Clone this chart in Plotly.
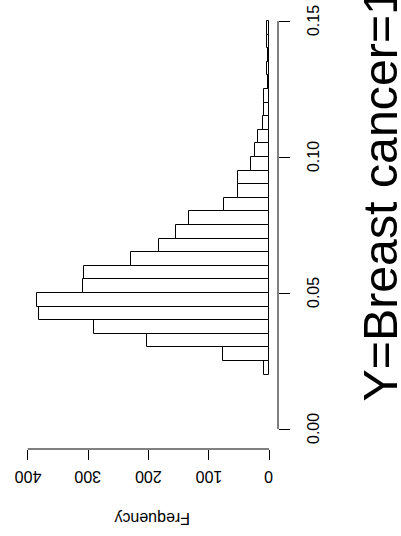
import plotly.graph_objects as go

# Histogram of predicted probabilities (bin width 0.005), drawn sideways
bin_width = 0.005
bin_starts = [0.020, 0.025, 0.030, 0.035, 0.040, 0.045, 0.050, 0.055, 0.060,
              0.065, 0.070, 0.075, 0.080, 0.085, 0.090, 0.095, 0.100, 0.105,
              0.110, 0.115, 0.120, 0.125, 0.130, 0.135, 0.140, 0.145]
counts = [9, 77, 203, 290, 381, 385, 308, 306, 229,
          183, 155, 133, 74, 52, 52, 30, 24, 19,
          10, 9, 9, 2, 3, 1, 3, 3]

value_ticks = [0.00, 0.05, 0.10, 0.15]
value_tick_text = ["0.00", "0.05", "0.10", "0.15"]
freq_ticks = [0, 100, 200, 300, 400]
freq_tick_text = ["0", "100", "200", "300", "400"]

title_text = "Y=Breast cancer=1"
freq_label = "Frequency"

W, H = 401, 536
L, R, T, B = 26, 123, 5, 87
FONT = "Liberation Sans, Arial, Helvetica, sans-serif"


def px_x(p):
    return (p - L) / (W - L - R)


def px_y(q):
    return (H - B - q) / (H - T - B)


centers = [s + bin_width / 2 for s in bin_starts]

fig = go.Figure(
    go.Bar(
        x=counts,
        y=centers,
        width=bin_width,
        orientation="h",
        marker=dict(color="white", line=dict(color="black", width=1)),
        hoverinfo="skip",
    )
)

fig.update_layout(
    width=W,
    height=H,
    margin=dict(l=L, r=R, t=T, b=B, pad=0),
    paper_bgcolor="white",
    plot_bgcolor="white",
    showlegend=False,
    font=dict(family=FONT, size=16, color="black"),
    bargap=0,
)

fig.update_xaxes(
    range=[402.8, -14.9],
    tickvals=freq_ticks,
    showticklabels=False,
    ticks="outside",
    ticklen=10,
    tickwidth=1,
    tickcolor="black",
    showgrid=False,
    zeroline=False,
    showline=False,
)

fig.update_yaxes(
    range=[-0.00735, 0.1559],
    side="right",
    tickvals=value_ticks,
    showticklabels=False,
    ticks="outside",
    ticklen=11,
    tickwidth=1,
    tickcolor="black",
    showgrid=False,
    zeroline=False,
    showline=False,
)

# Axis lines spanning only the first to last tick
fig.add_shape(type="line", xref="x", yref="paper",
              x0=min(freq_ticks), x1=max(freq_ticks), y0=0, y1=0,
              line=dict(color="black", width=1))
fig.add_shape(type="line", xref="paper", yref="y",
              x0=1, x1=1, y0=min(value_ticks), y1=max(value_ticks),
              line=dict(color="black", width=1))

# Tick labels (frequency labels upside down, value labels reading upward)
for v, t in zip(freq_ticks, freq_tick_text):
    fig.add_annotation(
        text=t, xref="x", yref="paper", x=v, y=px_y(477),
        textangle=180, showarrow=False, font=dict(size=16, color="black"),
        xanchor="center", yanchor="middle",
    )
for v, t in zip(value_ticks, value_tick_text):
    fig.add_annotation(
        text=t, xref="paper", yref="y", x=px_x(313), y=v,
        textangle=-90, showarrow=False, font=dict(size=16, color="black"),
        xanchor="center", yanchor="middle",
    )

fig.add_annotation(
    text=freq_label, xref="paper", yref="paper",
    x=px_x(152), y=px_y(519), textangle=180,
    showarrow=False, font=dict(size=16, color="black"),
    xanchor="center", yanchor="middle",
)
fig.add_annotation(
    text=title_text, xref="paper", yref="paper",
    x=px_x(379), y=px_y(404), textangle=-90,
    showarrow=False, font=dict(size=48.3, color="black"),
    xanchor="center", yanchor="bottom",
)

fig.write_html("out.html")
